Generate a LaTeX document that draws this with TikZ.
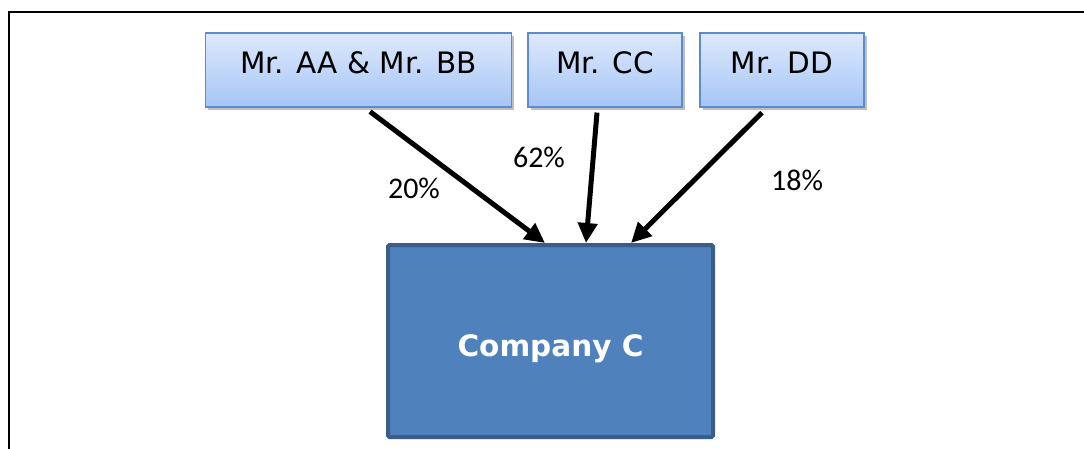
\documentclass[tikz,border=0pt]{standalone}
\usepackage{fontspec}
\setmainfont{DejaVu Sans}
\newfontfamily\pctfont{Carlito}
\usetikzlibrary{arrows.meta,shadows}
\definecolor{boxtop}{RGB}{222,233,252}
\definecolor{boxbot}{RGB}{166,197,246}
\definecolor{boxline}{RGB}{90,140,205}
\definecolor{cofill}{RGB}{79,129,189}
\definecolor{coline}{RGB}{58,93,138}
% place a label with its baseline at a fixed offset from the node centre
\newcommand{\placetext}[2]{\raisebox{#1}[0pt][0pt]{#2}}
\tikzset{
  person/.style={draw=boxline, line width=1.2pt, top color=boxtop, bottom color=boxbot,
    minimum height=74pt, inner sep=0pt, text=black,
    font=\fontsize{29.5}{34}\selectfont,
    drop shadow={shadow xshift=2.5pt, shadow yshift=-3pt, opacity=0.25, fill=black}},
  company/.style={draw=coline, line width=4pt, fill=cofill, rounded corners=1.5pt,
    minimum width=325pt, minimum height=192pt, inner sep=0pt, text=white,
    font=\fontsize{29.5}{34}\selectfont\bfseries},
  share/.style={draw=black, line width=5pt, -{Triangle[length=20pt,width=19pt]}},
  pct/.style={font=\pctfont\fontsize{30}{34}\selectfont, text=black}
}
\begin{document}
\begin{tikzpicture}[x=1pt,y=-1pt]
  \useasboundingbox (0,0) rectangle (1084,448);
  \fill[white] (0,0) rectangle (1084,448);
  \begin{scope}
    \clip (0,0) rectangle (1084,448);
    \draw[line width=2.4pt] (9,12) rectangle (1120,480);
  \end{scope}

  % shareholders
  \node[person, minimum width=306pt] (aa) at (358.5,70) {\placetext{-3pt}{Mr. AA \& Mr. BB}};
  \node[person, minimum width=154pt] (cc) at (605,70) {\placetext{-3pt}{Mr. CC}};
  \node[person, minimum width=164pt] (dd) at (782,70) {\placetext{-3pt}{Mr. DD}};

  % company
  \node[company] (co) at (550.5,341) {\placetext{-15.5pt}{Company C}};

  % ownership arrows
  \draw[share] ([xshift=11.5pt,yshift=-4pt]aa.south) -- ([xshift=-5.5pt]co.north);
  \draw[share] ([xshift=-8pt,yshift=-5pt]cc.south) -- ([xshift=35.5pt]co.north);
  \draw[share] ([xshift=-20pt,yshift=-5pt]dd.south) -- ([xshift=80.5pt]co.north);

  % percentages
  \node[pct] (p1) at (414,188) {20\%};
  \node[pct] (p2) at (539,157) {62\%};
  \node[pct] (p3) at (797,180) {18\%};
\end{tikzpicture}
\end{document}
